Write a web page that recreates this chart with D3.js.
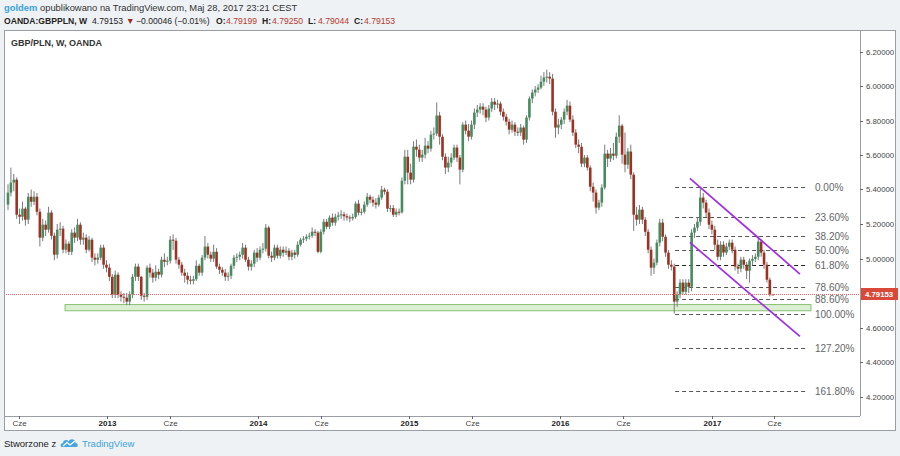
<!DOCTYPE html>
<html lang="pl">
<head>
<meta charset="UTF-8">
<title>GBP/PLN, W, OANDA</title>
<script src="https://d3js.org/d3.v7.min.js"></script>
<style>
  body { margin: 0; background: #eef2f5; font-family: "Liberation Sans", Arial, sans-serif; }
  svg { display: block; }
</style>
</head>
<body>
<svg id="chart" width="900" height="456"></svg>
<script>
// weekly bars, OANDA:GBPPLN, first bar = week starting 2012-05-06
const firstWeek = "2012-05-06";
const firstOpen = 5.312;
const closes = [
  5.382, 5.440, 5.457, 5.254, 5.242, 5.289, 5.225, 5.358, 5.329, 5.358,
  5.271, 5.121, 5.196, 5.167, 5.266, 5.132, 5.022, 5.167, 5.173, 5.051,
  5.086, 5.039, 5.150, 5.121, 5.196, 5.109, 5.121, 5.051, 5.109, 5.005,
  4.993, 5.005, 5.063, 4.964, 4.947, 4.894, 4.790, 4.906, 4.790, 4.778,
  4.773, 4.750, 4.790, 4.894, 4.953, 4.894, 4.784, 4.778, 4.947, 4.918,
  4.889, 4.923, 4.906, 4.993, 4.981, 4.987, 5.109, 5.103, 4.993, 4.964,
  4.918, 4.900, 4.877, 4.871, 4.880, 4.958, 4.918, 5.005, 5.069, 5.022,
  4.999, 5.039, 4.953, 4.935, 4.918, 4.894, 4.900, 4.958, 5.005, 5.010,
  5.022, 5.063, 4.993, 4.953, 4.970, 5.034, 5.005, 5.051, 5.057, 5.179,
  5.016, 5.005, 5.063, 5.016, 5.051, 5.034, 5.045, 5.010, 5.034, 5.022,
  5.080, 5.109, 5.115, 5.126, 5.132, 5.155, 5.150, 5.039, 5.155, 5.213,
  5.184, 5.237, 5.208, 5.242, 5.250, 5.256, 5.245, 5.238, 5.233, 5.241,
  5.318, 5.266, 5.271, 5.312, 5.358, 5.341, 5.324, 5.312, 5.353, 5.399,
  5.387, 5.289, 5.292, 5.254, 5.271, 5.268, 5.451, 5.590, 5.498, 5.457,
  5.648, 5.631, 5.585, 5.602, 5.654, 5.637, 5.718, 5.724, 5.829, 5.706,
  5.590, 5.527, 5.556, 5.585, 5.643, 5.585, 5.515, 5.776, 5.741, 5.706,
  5.776, 5.846, 5.863, 5.880, 5.863, 5.817, 5.869, 5.909, 5.892, 5.898,
  5.851, 5.822, 5.793, 5.747, 5.776, 5.735, 5.730, 5.759, 5.689, 5.817,
  5.927, 5.962, 5.979, 5.991, 6.025, 6.049, 6.054, 6.043, 5.851, 5.759,
  5.776, 5.805, 5.851, 5.886, 5.805, 5.730, 5.660, 5.648, 5.550, 5.585,
  5.527, 5.416, 5.382, 5.295, 5.324, 5.411, 5.608, 5.579, 5.608, 5.596,
  5.706, 5.770, 5.602, 5.544, 5.620, 5.486, 5.254, 5.225, 5.283, 5.225,
  5.155, 5.051, 4.947, 4.976, 5.092, 5.208, 5.126, 5.034, 4.964, 4.953,
  4.750, 4.790, 4.860, 4.807, 4.860, 4.836, 5.150, 5.179, 5.213, 5.353,
  5.324, 5.266, 5.196, 5.167, 5.080, 5.010, 5.080, 5.034, 5.069, 5.092,
  5.051, 4.953, 4.941, 4.993, 4.964, 4.929, 4.987, 4.998, 5.010, 5.098,
  5.034, 4.964, 4.877, 4.792, 4.79153
];
const highs = [
  5.43, 5.527, 5.49, 5.47, 5.29, 5.33, 5.30, 5.38, 5.40, 5.39,
  5.38, 5.29, 5.23, 5.22, 5.30, 5.28, 5.15, 5.20, 5.21, 5.19,
  5.11, 5.10, 5.17, 5.18, 5.23, 5.21, 5.15, 5.14, 5.13, 5.12,
  5.03, 5.03, 5.08, 5.08, 4.99, 4.97, 4.91, 4.93, 4.92, 4.81,
  4.80, 4.80, 4.81, 4.91, 4.97, 4.97, 4.90, 4.80, 4.96, 4.97,
  4.94, 4.96, 4.94, 5.01, 5.03, 5.01, 5.13, 5.14, 5.12, 5.01,
  4.98, 4.94, 4.92, 4.90, 4.90, 4.99, 4.97, 5.02, 5.13, 5.09,
  5.04, 5.08, 5.06, 4.97, 4.95, 4.94, 4.92, 4.97, 5.02, 5.03,
  5.04, 5.09, 5.08, 5.01, 4.99, 5.05, 5.06, 5.07, 5.09, 5.20,
  5.19, 5.04, 5.08, 5.08, 5.07, 5.07, 5.07, 5.06, 5.05, 5.05,
  5.10, 5.12, 5.13, 5.14, 5.15, 5.18, 5.17, 5.16, 5.17, 5.23,
  5.23, 5.25, 5.26, 5.26, 5.27, 5.28, 5.27, 5.26, 5.25, 5.26,
  5.33, 5.34, 5.29, 5.33, 5.38, 5.37, 5.36, 5.35, 5.37, 5.42,
  5.41, 5.40, 5.31, 5.31, 5.29, 5.29, 5.47, 5.63, 5.63, 5.55,
  5.68, 5.69, 5.66, 5.63, 5.70, 5.68, 5.74, 5.76, 5.905, 5.85,
  5.72, 5.61, 5.59, 5.61, 5.66, 5.66, 5.60, 5.79, 5.80, 5.78,
  5.80, 5.87, 5.89, 5.90, 5.90, 5.88, 5.89, 5.93, 5.93, 5.92,
  5.91, 5.87, 5.84, 5.81, 5.80, 5.79, 5.76, 5.78, 5.77, 5.83,
  5.94, 5.98, 6.00, 6.01, 6.06, 6.08, 6.095, 6.08, 6.07, 5.87,
  5.81, 5.82, 5.87, 5.92, 5.91, 5.83, 5.75, 5.69, 5.67, 5.60,
  5.60, 5.54, 5.44, 5.40, 5.34, 5.43, 5.66, 5.63, 5.64, 5.67,
  5.73, 5.83, 5.78, 5.73, 5.64, 5.66, 5.50, 5.30, 5.31, 5.30,
  5.24, 5.17, 5.07, 5.00, 5.11, 5.23, 5.23, 5.14, 5.05, 4.99,
  4.97, 4.81, 4.88, 4.88, 4.88, 4.88, 5.17, 5.20, 5.24, 5.412,
  5.38, 5.34, 5.29, 5.22, 5.19, 5.11, 5.10, 5.10, 5.09, 5.11,
  5.11, 5.07, 4.97, 5.01, 5.01, 4.98, 5.00, 5.02, 5.03, 5.13,
  5.11, 5.05, 4.98, 4.89, 4.7925
];
const lows = [
  5.28, 5.36, 5.39, 5.23, 5.20, 5.22, 5.19, 5.20, 5.30, 5.31,
  5.25, 5.07, 5.10, 5.13, 5.15, 5.11, 4.99, 5.00, 5.13, 5.03,
  5.03, 5.02, 5.02, 5.09, 5.10, 5.08, 5.08, 5.03, 5.04, 4.98,
  4.96, 4.97, 4.99, 4.94, 4.92, 4.87, 4.77, 4.77, 4.77, 4.75,
  4.74, 4.73, 4.73, 4.77, 4.87, 4.87, 4.76, 4.75, 4.76, 4.89,
  4.86, 4.87, 4.88, 4.89, 4.95, 4.96, 4.97, 5.05, 4.97, 4.94,
  4.90, 4.86, 4.85, 4.85, 4.85, 4.87, 4.90, 4.90, 4.99, 5.00,
  4.98, 4.98, 4.94, 4.91, 4.90, 4.87, 4.87, 4.88, 4.94, 4.98,
  4.99, 5.00, 4.98, 4.93, 4.93, 4.95, 4.98, 4.99, 5.03, 5.04,
  5.00, 4.98, 4.99, 5.00, 5.00, 5.01, 5.02, 4.99, 4.99, 5.00,
  5.01, 5.07, 5.09, 5.10, 5.11, 5.12, 5.13, 5.03, 5.03, 5.14,
  5.17, 5.17, 5.19, 5.19, 5.22, 5.23, 5.22, 5.22, 5.21, 5.22,
  5.23, 5.25, 5.25, 5.26, 5.30, 5.32, 5.30, 5.29, 5.30, 5.34,
  5.37, 5.27, 5.27, 5.24, 5.24, 5.25, 5.26, 5.43, 5.43, 5.43,
  5.44, 5.59, 5.56, 5.56, 5.58, 5.61, 5.62, 5.69, 5.71, 5.66,
  5.57, 5.49, 5.50, 5.53, 5.57, 5.56, 5.43, 5.50, 5.72, 5.68,
  5.69, 5.75, 5.82, 5.84, 5.83, 5.79, 5.80, 5.85, 5.86, 5.87,
  5.83, 5.80, 5.77, 5.72, 5.73, 5.71, 5.71, 5.71, 5.66, 5.67,
  5.80, 5.90, 5.94, 5.96, 5.98, 6.00, 6.02, 6.01, 5.83, 5.70,
  5.72, 5.75, 5.78, 5.83, 5.79, 5.71, 5.64, 5.61, 5.53, 5.53,
  5.51, 5.39, 5.33, 5.26, 5.28, 5.30, 5.40, 5.53, 5.56, 5.57,
  5.58, 5.67, 5.55, 5.50, 5.52, 5.46, 5.16, 5.19, 5.20, 5.20,
  5.13, 5.03, 4.90, 4.91, 4.96, 5.07, 5.10, 5.01, 4.94, 4.93,
  4.681, 4.72, 4.77, 4.79, 4.79, 4.80, 4.81, 5.12, 5.16, 5.19,
  5.29, 5.24, 5.17, 5.14, 5.05, 4.99, 4.99, 5.01, 5.02, 5.05,
  5.03, 4.93, 4.91, 4.92, 4.94, 4.88, 4.86, 4.96, 4.98, 4.99,
  5.01, 4.94, 4.86, 4.78, 4.7904
];

const priceTicks = [6.2, 6.0, 5.8, 5.6, 5.4, 5.2, 5.0, 4.6, 4.4, 4.2];
const timeTickDates = ["2012-06-01", "2013-01-01", "2013-06-01", "2014-01-01", "2014-06-01",
  "2015-01-01", "2015-06-01", "2016-01-01", "2016-06-01", "2017-01-01", "2017-06-01"];
const timeTickLabels = ["Cze", "2013", "Cze", "2014", "Cze", "2015", "Cze", "2016", "Cze", "2017", "Cze"];

// drawings (bar index, price)
const fibLevels = [0, 0.236, 0.382, 0.5, 0.618, 0.786, 0.886, 1, 1.272, 1.618];
const fibHigh = 5.412, fibLow = 4.681;
const fibFrom = 230.3, fibTo = 275.8;
const channelUpper = [[235.4, 5.465], [273.4, 4.910]];
const channelLower = [[235.4, 5.093], [273.4, 4.548]];
const supportZone = [19.7, 277.2, 4.697, 4.733];

const lastPrice = 4.79153;
const lastChange = "\u22120.00046 (\u22120.01%)";
const quoteLabels = ["O:", "H:", "L:", "C:"];
const quoteValues = ["4.79199", "4.79250", "4.79044", "4.79153"];

const pane = { left: 4, top: 30, right: 895, bottom: 430 };
const plot = { left: 4, top: 30, right: 860, bottom: 416 };
const barStep = 2.8967;

const svg = d3.select("#chart");

const bars = closes.map((c, i) => ({
  i: i,
  o: i === 0 ? firstOpen : closes[i - 1],
  h: highs[i],
  l: lows[i],
  c: c
}));

const x = d3.scaleLinear().domain([0, bars.length - 1]).range([8, 8 + (bars.length - 1) * barStep]);
const y = d3.scaleLinear().domain([4.2, 6.2]).range([396.5, 51.5]);

const t0 = new Date(firstWeek + "T00:00:00Z");
const weekIndex = s => (new Date(s + "T00:00:00Z") - t0) / (7 * 864e5);

// header
const head1 = svg.append("text").attr("x", 4).attr("y", 10.5).attr("font-size", 9.4);
head1.append("tspan").attr("fill", "#3aa3d9").attr("font-weight", "bold").text("goldem");
head1.append("tspan").attr("fill", "#333").text(" opublikowano na TradingView.com, Maj 28, 2017 23:21 CEST");

const head2 = svg.append("text").attr("y", 23.5).attr("font-size", 8.6).attr("fill", "#222");
head2.append("tspan").attr("x", 4).attr("font-weight", "bold").text("OANDA:GBPPLN, W");
head2.append("tspan").attr("x", 92).text(d3.format(".5f")(lastPrice));
head2.append("tspan").attr("x", 126).attr("fill", "#a3261b").text("▼");
head2.append("tspan").attr("x", 136).text(lastChange);
quoteLabels.forEach((lab, k) => {
  head2.append("tspan").attr("x", 216 + k * 46).attr("font-weight", "bold").text(lab);
  head2.append("tspan").attr("x", 226 + k * 46).attr("fill", "#b73a2e").text(quoteValues[k]);
});

// pane
svg.append("rect")
  .attr("x", pane.left + 0.5).attr("y", pane.top + 0.5)
  .attr("width", pane.right - pane.left).attr("height", pane.bottom - pane.top)
  .attr("fill", "#fff").attr("stroke", "#9a9ea3");

svg.append("text").attr("x", 11).attr("y", 46).attr("font-size", 9)
  .attr("font-weight", "bold").attr("fill", "#333").text("GBP/PLN, W, OANDA");

svg.append("clipPath").attr("id", "plotclip").append("rect")
  .attr("x", plot.left + 1).attr("y", plot.top + 1)
  .attr("width", plot.right - plot.left - 1).attr("height", plot.bottom - plot.top - 1);

const g = svg.append("g").attr("clip-path", "url(#plotclip)");

// support zone
g.append("rect")
  .attr("x", x(supportZone[0])).attr("y", y(supportZone[3]))
  .attr("width", x(supportZone[1]) - x(supportZone[0]))
  .attr("height", y(supportZone[2]) - y(supportZone[3]))
  .attr("fill", "#dcefd3").attr("stroke", "#86c172").attr("stroke-width", 1);

// fibonacci
const fib = g.append("g");
fibLevels.forEach(lv => {
  const p = fibHigh - lv * (fibHigh - fibLow);
  const yy = Math.round(y(p)) + 0.5;
  fib.append("line")
    .attr("x1", x(fibFrom)).attr("x2", x(fibTo)).attr("y1", yy).attr("y2", yy)
    .attr("stroke", lv === 0.618 ? "#222" : "#555").attr("stroke-width", 1)
    .attr("stroke-dasharray", "4,3");
  fib.append("text").attr("x", 815).attr("y", yy).attr("dy", "0.35em")
    .attr("font-size", 10).attr("fill", "#666").text(d3.format(".2%")(lv));
});

// candles
const cg = g.append("g");
cg.selectAll("line.wick").data(bars).join("line")
  .attr("class", "wick")
  .attr("x1", d => x(d.i)).attr("x2", d => x(d.i))
  .attr("y1", d => y(d.h)).attr("y2", d => y(d.l))
  .attr("stroke", "#7a7a7a").attr("stroke-width", 1);
cg.selectAll("rect.body").data(bars).join("rect")
  .attr("class", "body")
  .attr("x", d => x(d.i) - 1.3).attr("width", 2.6)
  .attr("y", d => y(Math.max(d.o, d.c)))
  .attr("height", d => Math.max(1, Math.abs(y(d.o) - y(d.c))))
  .attr("fill", d => d.c >= d.o ? "#468c5f" : "#9e3222");

// channel
const lineGen = d3.line().x(d => x(d[0])).y(d => y(d[1]));
[channelUpper, channelLower].forEach(seg => {
  g.append("path").attr("d", lineGen(seg)).attr("fill", "none")
    .attr("stroke", "#a22ee6").attr("stroke-width", 1.7);
});

// last price line
g.append("line")
  .attr("x1", plot.left).attr("x2", plot.right)
  .attr("y1", Math.round(y(lastPrice)) + 0.5).attr("y2", Math.round(y(lastPrice)) + 0.5)
  .attr("stroke", "#e06a6a").attr("stroke-dasharray", "1,1").attr("stroke-width", 1);

// axes frame
svg.append("line").attr("x1", plot.right + 0.5).attr("x2", plot.right + 0.5)
  .attr("y1", plot.top).attr("y2", plot.bottom).attr("stroke", "#9a9ea3");
svg.append("line").attr("x1", plot.left).attr("x2", plot.right)
  .attr("y1", plot.bottom + 0.5).attr("y2", plot.bottom + 0.5).attr("stroke", "#9a9ea3");

// price axis
const ya = svg.append("g");
priceTicks.forEach(p => {
  const yy = Math.round(y(p)) + 0.5;
  ya.append("line").attr("x1", plot.right).attr("x2", plot.right + 3)
    .attr("y1", yy).attr("y2", yy).attr("stroke", "#666");
  ya.append("text").attr("x", plot.right + 6).attr("y", yy).attr("dy", "0.35em")
    .attr("font-size", 7.8).attr("fill", "#444").text(d3.format(".5f")(p));
});
const ly = Math.round(y(lastPrice));
ya.append("rect").attr("x", plot.right + 1).attr("y", ly - 6).attr("width", 37).attr("height", 12)
  .attr("fill", "#d9493a");
ya.append("text").attr("x", plot.right + 5).attr("y", ly).attr("dy", "0.35em")
  .attr("font-size", 7.8).attr("font-weight", "bold").attr("fill", "#fff").text(d3.format(".5f")(lastPrice));

// time axis
const xa = svg.append("g");
timeTickDates.forEach((s, k) => {
  const xx = Math.round(x(weekIndex(s))) + 0.5;
  xa.append("line").attr("x1", xx).attr("x2", xx)
    .attr("y1", plot.bottom).attr("y2", plot.bottom + 3).attr("stroke", "#666");
  const isYear = /^\d{4}$/.test(timeTickLabels[k]);
  xa.append("text").attr("x", xx).attr("y", 426).attr("text-anchor", "middle")
    .attr("font-size", 8).attr("fill", isYear ? "#222" : "#444")
    .attr("font-weight", isYear ? "bold" : "normal").text(timeTickLabels[k]);
});

// footer
svg.append("text").attr("x", 4).attr("y", 446.5).attr("font-size", 9.5).attr("fill", "#222")
  .text("Stworzone z");
const logo = svg.append("g").attr("transform", "translate(61,438)");
logo.append("path")
  .attr("d", "M1,9 C-1,9 -1,5 2,5 C2,2 6,1 7.5,3.5 C9,0 15,1 14.5,5 C17.5,5 17.5,9 15,9 Z")
  .attr("fill", "#45a6dd");
logo.append("path").attr("d", "M2,8 L6,4.5 L9,7 L14,3")
  .attr("fill", "none").attr("stroke", "#fff").attr("stroke-width", 1.3);
svg.append("text").attr("x", 82).attr("y", 446.5).attr("font-size", 9.5).attr("fill", "#3aa3d9")
  .text("TradingView");
</script>
</body>
</html>
